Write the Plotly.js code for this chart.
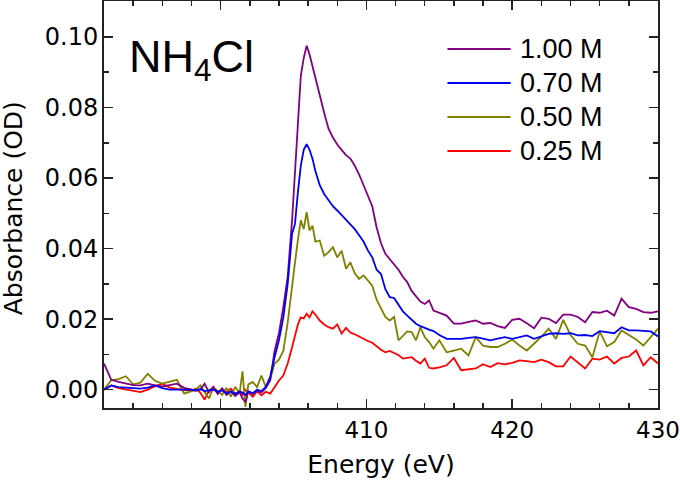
<!DOCTYPE html>
<html><head><meta charset="utf-8">
<script src="https://cdn.plot.ly/plotly-3.0.1.min.js"></script>
<style>html,body{margin:0;padding:0;background:#fff}#chart{width:680px;height:480px}</style>
</head><body><div id="chart"></div>
<script>
const energy = [392,392.5,393,393.5,394,394.5,395,395.5,396,396.5,397,397.5,398,398.3,398.6,398.9,399.2,399.5,399.8,400.1,400.4,400.7,401.0,401.3,401.5,401.7,401.9,402.2,402.5,402.8,403.1,403.4,403.7,404.0,404.3,404.6,404.9,405.1,405.3,405.5,405.7,405.9,406.1,406.3,406.5,406.8,407.1,407.4,407.7,408.0,408.3,408.6,408.9,409.2,409.5,409.8,410.1,410.4,410.7,411.0,411.3,411.6,411.9,412.2,412.5,412.8,413.1,413.4,413.7,414.0,414.3,414.6,415.0,415.5,416.0,416.5,417.0,417.5,418.0,418.5,419.0,419.5,420.0,420.5,421.0,421.5,422.0,422.5,423.0,423.5,424.0,424.5,425.0,425.5,426.0,426.5,427.0,427.5,428.0,428.5,429.0,429.5,430.0];

const abs100 = [0.0074,0.0028,0.0022,0.0017,0.0013,0.0012,0.0017,0.0012,0.0009,0.0013,0.0017,0.0005,0.0,-0.0003,0.0,0.0017,-0.0007,0.0008,-0.0012,0.0004,-0.0015,-0.0005,-0.0018,-0.0008,-0.0025,-0.0035,-0.0006,-0.0012,-0.0004,-0.0008,0.0005,0.0026,0.011,0.016,0.0234,0.032,0.048,0.062,0.077,0.089,0.094,0.0975,0.095,0.0915,0.0885,0.0835,0.0785,0.074,0.0715,0.0695,0.068,0.0665,0.0655,0.0635,0.061,0.058,0.055,0.052,0.046,0.0415,0.0385,0.037,0.0357,0.034,0.032,0.0305,0.028,0.0265,0.025,0.0243,0.0253,0.0224,0.0218,0.021,0.0187,0.0187,0.0192,0.0196,0.0187,0.0189,0.018,0.0175,0.0198,0.0201,0.0188,0.0174,0.0204,0.0201,0.0189,0.0213,0.0213,0.0206,0.0191,0.022,0.0218,0.0224,0.021,0.0258,0.0234,0.0229,0.022,0.0218,0.0222];

const abs070 = [0.0,0.0012,0.0007,0.0005,0.0003,0.0003,0.0006,0.0012,0.0004,0.0,0.0,0.0001,0.0,-0.0002,0.0002,-0.0004,-0.0002,0.0,-0.0006,-0.0002,-0.001,-0.0005,-0.0012,-0.0006,-0.0008,-0.0015,-0.0005,-0.001,0.0,-0.0004,0.0008,0.0036,0.0092,0.014,0.0205,0.03,0.0442,0.047,0.056,0.0635,0.068,0.0696,0.068,0.0655,0.062,0.058,0.0555,0.0536,0.052,0.0508,0.0495,0.0482,0.047,0.0455,0.0438,0.042,0.0395,0.0375,0.034,0.0328,0.0285,0.0262,0.026,0.024,0.0222,0.021,0.0198,0.0187,0.018,0.0174,0.017,0.0166,0.0155,0.0144,0.0144,0.0144,0.0147,0.0149,0.0145,0.014,0.0145,0.0149,0.0144,0.0149,0.0154,0.0144,0.0152,0.0158,0.016,0.0158,0.016,0.0154,0.0155,0.0152,0.0166,0.0163,0.016,0.0177,0.0168,0.0168,0.0166,0.0165,0.0151];

const abs050 = [0.0,0.0027,0.003,0.0038,0.0015,0.002,0.0045,0.0025,0.0017,0.0022,0.0028,-0.0011,-0.0005,0.0,0.0012,-0.0008,-0.0025,0.0005,-0.0003,-0.0015,0.0005,-0.002,0.0008,-0.001,0.0052,-0.0049,0.0015,0.0022,0.0007,0.004,0.0007,0.003,0.0074,0.0085,0.011,0.019,0.03,0.036,0.0425,0.048,0.0455,0.0503,0.0451,0.0465,0.042,0.0423,0.038,0.039,0.0404,0.0375,0.0394,0.0343,0.0361,0.033,0.0314,0.0324,0.031,0.0295,0.0255,0.023,0.0206,0.0196,0.0206,0.014,0.0154,0.0165,0.0163,0.014,0.0177,0.0149,0.0135,0.0116,0.014,0.0106,0.0111,0.0116,0.0097,0.0149,0.0125,0.0121,0.0121,0.013,0.0142,0.0125,0.0111,0.013,0.015,0.0173,0.0144,0.0198,0.0155,0.013,0.0125,0.0092,0.0165,0.0123,0.0135,0.0168,0.0155,0.0142,0.0125,0.015,0.0173];

const abs025 = [0.0,0.0012,0.0004,0.0,-0.0003,-0.0007,0.0,0.001,0.0017,0.0006,0.0002,0.0,-0.0004,0.0003,-0.0008,-0.0028,-0.0002,0.0005,-0.001,0.0002,-0.0006,0.0003,-0.0012,-0.0004,-0.0015,0.0,-0.0008,-0.002,-0.0005,-0.0016,-0.0006,-0.0011,0.0007,0.0026,0.004,0.0074,0.012,0.0149,0.0185,0.0205,0.0202,0.0215,0.0205,0.0222,0.0213,0.0196,0.0185,0.0177,0.0173,0.0185,0.0159,0.0175,0.0162,0.0157,0.015,0.0145,0.0138,0.0133,0.0122,0.0113,0.0106,0.011,0.0104,0.0098,0.0088,0.0091,0.0092,0.0082,0.0074,0.0088,0.0062,0.006,0.0063,0.0069,0.009,0.0055,0.0057,0.006,0.0072,0.0064,0.0075,0.0072,0.0076,0.0083,0.0081,0.0078,0.0085,0.0078,0.0066,0.0066,0.0094,0.0078,0.006,0.0088,0.0085,0.0094,0.0074,0.009,0.0094,0.0111,0.0069,0.0092,0.0074];

const seriesNames = ['1.00 M', '0.70 M', '0.50 M', '0.25 M'];
const seriesColors = ['#800080', '#0000f0', '#808000', '#ff0000'];
const seriesValues = [abs100, abs070, abs050, abs025];
const drawOrder = [3, 2, 0, 1];

const xTitle = 'Energy (eV)';
const yTitle = 'Absorbance (OD)';
const sampleLabel = 'NH<sub>4</sub>Cl';

const FONT = 'Liberation Sans, Arial, sans-serif';
const AXFONT = 'DejaVu Sans, Liberation Sans, sans-serif';

const traces = drawOrder.map(i => ({
  type: 'scatter', mode: 'lines', x: energy, y: seriesValues[i], name: seriesNames[i],
  line: {color: seriesColors[i], width: 1.8}, showlegend: false
}));

// legend drawn as lines + text, built from the series arrays
const legendTop = 0.882, legendStep = 0.0835;
const shapes = [], annotations = [];
seriesNames.forEach((n, i) => {
  const yy = legendTop - i * legendStep;
  shapes.push({type: 'line', xref: 'paper', yref: 'paper', x0: 0.620, x1: 0.734, y0: yy, y1: yy,
    line: {color: seriesColors[i], width: 2}});
  annotations.push({xref: 'paper', yref: 'paper', x: 0.747, y: yy, xanchor: 'left', yanchor: 'middle',
    text: n, showarrow: false, font: {family: FONT, size: 27, color: '#000'}});
});
annotations.push({xref: 'paper', yref: 'paper', x: 0.042, y: 0.932, xanchor: 'left', yanchor: 'top',
  text: sampleLabel, showarrow: false, font: {family: FONT, size: 45, color: '#000'}});
// y-axis title placed as rotated text to sit at the far left like the reference
annotations.push({xref: 'paper', yref: 'paper', x: -0.163, y: 0.49, xanchor: 'center', yanchor: 'middle',
  textangle: -90, text: yTitle, showarrow: false, font: {family: AXFONT, size: 25, color: '#000'}});

const axisCommon = {
  showline: true, linewidth: 2, linecolor: '#222', mirror: 'allticks',
  ticks: 'inside', ticklen: 9, tickwidth: 1.5, tickcolor: '#222',
  showgrid: false, zeroline: false,
  tickfont: {family: AXFONT, size: 24, color: '#000'}
};

const layout = {
  width: 680, height: 480,
  margin: {l: 104, r: 22, t: 1, b: 72},
  paper_bgcolor: '#fff', plot_bgcolor: '#fff',
  showlegend: false,
  xaxis: Object.assign({}, axisCommon, {
    range: [392, 430], tick0: 400, dtick: 10,
    ticklabeloverflow: 'allow',
    tickfont: {family: AXFONT, size: 23, color: '#000'},
    minor: {dtick: 2, ticks: 'inside', ticklen: 5, tickwidth: 1.5, tickcolor: '#222'},
    title: {text: xTitle, font: {family: AXFONT, size: 25, color: '#000'}, standoff: 14}
  }),
  yaxis: Object.assign({}, axisCommon, {
    range: [-0.0052, 0.1102], tick0: 0, dtick: 0.02, tickformat: '.2f',
    ticklabelstandoff: -1,
    minor: {dtick: 0.01, ticks: 'inside', ticklen: 5, tickwidth: 1.5, tickcolor: '#222'}
  }),
  shapes: shapes,
  annotations: annotations
};

Plotly.newPlot('chart', traces, layout, {displayModeBar: false, staticPlot: true});
</script></body></html>
